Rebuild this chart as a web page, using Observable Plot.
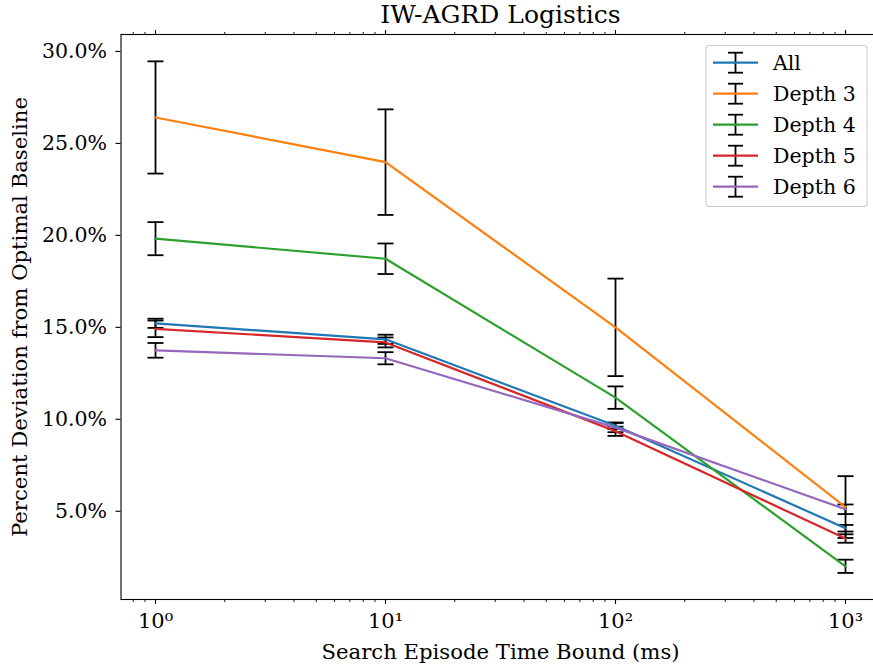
<!DOCTYPE html>
<html>
<head>
<meta charset="utf-8">
<script src="https://cdn.jsdelivr.net/npm/d3@7"></script>
<script src="https://cdn.jsdelivr.net/npm/@observablehq/plot@0.6"></script>
<style>
  html, body { margin: 0; padding: 0; background: white; }
  #chart svg { display: block; }
</style>
</head>
<body>
<div id="chart"></div>
<script>
// ---- data ----
const timeBounds = [1, 10, 100, 1000];
const seriesNames = ["All", "Depth 3", "Depth 4", "Depth 5", "Depth 6"];
const seriesColors = ["#1f77b4", "#ff7f0e", "#2ca02c", "#d62728", "#9467bd"];

const allMean    = [15.22, 14.35, 9.65, 4.08];
const allErr     = [0.25, 0.25, 0.18, 0.18];
const depth3Mean = [26.41, 23.98, 15.00, 5.23];
const depth3Err  = [3.05, 2.87, 2.65, 1.68];
const depth4Mean = [19.82, 18.73, 11.18, 2.01];
const depth4Err  = [0.90, 0.83, 0.61, 0.36];
const depth5Mean = [14.92, 14.18, 9.35, 3.52];
const depth5Err  = [0.45, 0.27, 0.25, 0.23];
const depth6Mean = [13.75, 13.32, 9.55, 5.11];
const depth6Err  = [0.40, 0.33, 0.25, 0.26];

const yTicks = [5, 10, 15, 20, 25, 30];
const xMajorTicks = [1, 10, 100, 1000];
const xMinorTicks = [0.8, 0.9, 2, 3, 4, 5, 6, 7, 8, 9, 20, 30, 40, 50, 60, 70, 80, 90,
                     200, 300, 400, 500, 600, 700, 800, 900];
const sup = {"0": "\u2070", "1": "\u00b9", "2": "\u00b2", "3": "\u00b3"};

const titleText = "IW-AGRD Logistics";
const xLabel = "Search Episode Time Bound (ms)";
const yLabel = "Percent Deviation from Optimal Baseline";

// ---- table ----
const means = [allMean, depth3Mean, depth4Mean, depth5Mean, depth6Mean];
const errs = [allErr, depth3Err, depth4Err, depth5Err, depth6Err];
const rows = [];
seriesNames.forEach((s, i) => {
  timeBounds.forEach((t, j) => {
    rows.push({series: s, x: t, y: means[i][j], err: errs[i][j]});
  });
});

const capSymbol = {
  draw(ctx) { ctx.moveTo(-8, 0); ctx.lineTo(8, 0); }
};

const FONT = "DejaVu Serif";

const chart = Plot.plot({
  width: 873,
  height: 666,
  marginTop: 34,
  marginBottom: 67,
  marginLeft: 120.5,
  marginRight: -6.5,
  style: {fontFamily: FONT, fontSize: "19px", background: "white", color: "black", overflow: "hidden"},
  x: {type: "log", domain: [Math.pow(10, -0.15), Math.pow(10, 3.15)]},
  y: {domain: [0.205, 30.92]},
  color: {domain: seriesNames, range: seriesColors},
  marks: [
    // error bars (beneath lines)
    Plot.ruleX(rows, {x: "x", y1: d => d.y - d.err, y2: d => d.y + d.err, stroke: "black", strokeWidth: 1.8}),
    Plot.dot(rows, {x: "x", y: d => d.y - d.err, symbol: capSymbol, stroke: "black", fill: "none", strokeWidth: 1.8}),
    Plot.dot(rows, {x: "x", y: d => d.y + d.err, symbol: capSymbol, stroke: "black", fill: "none", strokeWidth: 1.8}),
    // lines
    Plot.line(rows, {x: "x", y: "y", z: "series", stroke: "series", strokeWidth: 2.2}),
    // frame
    Plot.frame({stroke: "black", strokeWidth: 1.1}),
    // axes
    Plot.axisY({ticks: yTicks, tickFormat: d => d.toFixed(1) + "%", tickSize: 5, tickPadding: 9, label: null, fontSize: 20.5, strokeWidth: 1.1}),
    Plot.axisX({ticks: xMajorTicks, tickFormat: d => "10" + sup[String(Math.round(Math.log10(d)))], tickSize: 5, tickPadding: 9, label: null, fontSize: 21, strokeWidth: 1.1}),
    Plot.axisX({ticks: xMinorTicks, tickFormat: () => "", tickSize: 3, label: null, strokeWidth: 0.9}),
    Plot.axisX({anchor: "top", ticks: xMajorTicks, tickFormat: () => "", tickSize: 5, label: null, strokeWidth: 1.1}),
    Plot.axisX({anchor: "top", ticks: xMinorTicks, tickFormat: () => "", tickSize: 3, label: null, strokeWidth: 0.9}),
    // title & labels
    Plot.text([titleText], {frameAnchor: "top", textAnchor: "middle", dy: -20, lineAnchor: "middle", fontSize: 25, fill: "black"}),
    Plot.text([xLabel], {frameAnchor: "bottom", textAnchor: "middle", dy: 53, lineAnchor: "middle", fontSize: 21.2, fill: "black"}),
    Plot.text([yLabel], {frameAnchor: "left", textAnchor: "middle", dx: -100.5, rotate: -90, lineAnchor: "middle", fontSize: 21.2, fill: "black"})
  ]
});

document.getElementById("chart").appendChild(chart);

// ---- legend ----
const svg = d3.select(chart);
const lg = svg.append("g").attr("class", "legend");
lg.append("rect")
  .attr("x", 706).attr("y", 45.5).attr("width", 161).attr("height", 161)
  .attr("rx", 3).attr("ry", 3)
  .attr("fill", "white").attr("fill-opacity", 0.8)
  .attr("stroke", "#cccccc").attr("stroke-width", 1.1);
seriesNames.forEach((s, i) => {
  const cy = 62.7 + 31 * i;
  const row = lg.append("g");
  row.append("line").attr("x1", 735.5).attr("x2", 735.5).attr("y1", cy - 10).attr("y2", cy + 10)
    .attr("stroke", "black").attr("stroke-width", 1.8);
  row.append("line").attr("x1", 728).attr("x2", 743).attr("y1", cy - 10).attr("y2", cy - 10)
    .attr("stroke", "black").attr("stroke-width", 1.8);
  row.append("line").attr("x1", 728).attr("x2", 743).attr("y1", cy + 10).attr("y2", cy + 10)
    .attr("stroke", "black").attr("stroke-width", 1.8);
  row.append("line").attr("x1", 713).attr("x2", 758).attr("y1", cy).attr("y2", cy)
    .attr("stroke", seriesColors[i]).attr("stroke-width", 2.2);
  row.append("text").attr("x", 773).attr("y", cy).attr("dy", "0.35em")
    .attr("text-anchor", "start")
    .attr("font-family", FONT).attr("font-size", 20.5).attr("fill", "black")
    .text(s);
});
</script>
</body>
</html>
